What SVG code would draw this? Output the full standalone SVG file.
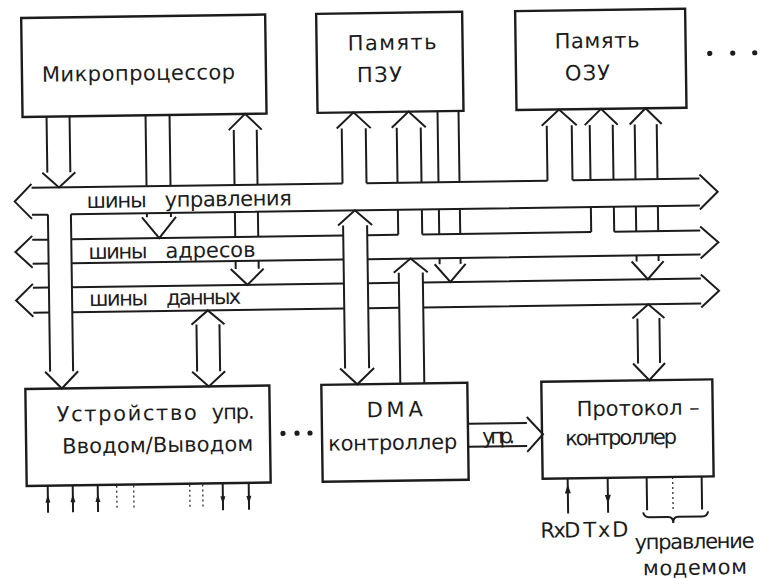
<svg xmlns="http://www.w3.org/2000/svg" width="760" height="579" viewBox="0 0 760 579">
<style>
.ln{fill:none;stroke:#1c1c1c;stroke-width:2;stroke-linejoin:miter;stroke-linecap:butt}
.box{fill:none;stroke:#1c1c1c;stroke-width:2.4}
.dot{fill:none;stroke:#1c1c1c;stroke-width:1.2;stroke-dasharray:2 3}
.ah{fill:#1c1c1c;stroke:none}
.t{font-family:"DejaVu Sans","Liberation Sans",sans-serif;font-size:21px;fill:#1c1c1c}
</style>
<rect width="760" height="579" fill="#ffffff"/>
<g transform="rotate(-0.8 380 290)">
<g id="mp"><rect class="box" x="25" y="13" width="244" height="99"/><text class="t" x="45" y="77" textLength="193">Микропроцессор</text></g>
<g id="rom"><rect class="box" x="320" y="13" width="146" height="99"/><text class="t" x="351" y="50" font-size="19" textLength="89">Память</text><text class="t" x="360" y="82" textLength="45">ПЗУ</text></g>
<g id="ram"><rect class="box" x="519" y="13" width="170" height="99"/><text class="t" x="558" y="51" font-size="19" textLength="85">Память</text><text class="t" x="568" y="83" textLength="45">ОЗУ</text></g>
<g id="more-top"><circle cx="713" cy="58" r="2.6" fill="#1c1c1c"/><circle cx="736" cy="58" r="2.6" fill="#1c1c1c"/><circle cx="758" cy="58" r="2.6" fill="#1c1c1c"/></g>
<g id="io"><rect class="box" x="24" y="384" width="244" height="97"/><text class="t" x="55" y="417" textLength="140">Устройство</text><text class="t" x="210" y="417" textLength="43">упр.</text><text class="t" x="60" y="449" textLength="191">Вводом/Выводом</text>
<path class="ln" d="M45,481V508M70,481V508M95,481V508M220,481V508M246,481V508"/>
<path class="dot" d="M114,482V506M131,482V506M187,482V506M200,482V506"/>
<path class="ah" d="M42.5,498L45,490L47.5,498ZM67.5,498L70,490L72.5,498ZM92.5,498L95,490L97.5,498ZM217.5,494L220,502L222.5,494ZM243.5,494L246,502L248.5,494Z"/></g>
<g id="more-mid"><circle cx="281" cy="432" r="2.6" fill="#1c1c1c"/><circle cx="295" cy="432" r="2.6" fill="#1c1c1c"/><circle cx="308" cy="432" r="2.6" fill="#1c1c1c"/></g>
<g id="dma"><rect class="box" x="320" y="384" width="146" height="97"/><text class="t" x="365" y="417" font-size="20" textLength="56">DMA</text><text class="t" x="326" y="450" textLength="129">контроллер</text></g>
<g id="proto"><rect class="box" x="540" y="384" width="171" height="97"/><text class="t" x="575" y="419" textLength="123">Протокол –</text><text class="t" x="563" y="448" textLength="112">контроллер</text>
<path class="ln" d="M565,481V516M605,481V516M644,481V514M699,481V514"/>
<path class="dot" d="M670,481V514"/>
<path class="ah" d="M562,496L565,487L568,496ZM602,498L605,507L608,498Z"/>
<path class="ln" stroke-width="1.6" d="M640,516Q641,521 646,521L665,521Q670,521 670,527Q670,521 675,521L699,521Q704,521 705,516"/>
<text class="t" x="537" y="540" font-size="20" textLength="40">RxD</text><text class="t" x="580" y="540" font-size="20" textLength="45">TxD</text>
<text class="t" x="631" y="553" font-size="17" textLength="120">управление</text><text class="t" x="639" y="579" font-size="17" textLength="104">модемом</text></g>
<g id="buses">
<path class="ln" d="M33,179L16,196.5L33,214M33,183H344M368,183H549M574,183H701M33,210H49M72,210H701M701,179L719,196.5L701,214"/>
<path class="ln" d="M33,231L16,247L33,263M33,235H49M72,235H344M368,235H399M423,235H592M615,235H701M33,259H49M72,259H344M368,259H701M701,231L719,247L701,263"/>
<path class="ln" d="M33,279L16,295.5L33,312M33,283H49M72,283H344M368,283H399M423,283H701M33,308H49M72,308H344M368,308H399M423,308H701M701,279L719,295.5L701,312"/>
<text class="t" x="88" y="204" textLength="60">шины</text><text class="t" x="166" y="204" textLength="127">управления</text>
<text class="t" x="89" y="255" textLength="59">шины</text><text class="t" x="166" y="255" textLength="90">адресов</text>
<text class="t" x="89" y="302" textLength="59">шины</text><text class="t" x="166" y="302" textLength="75">данных</text>
</g>
<g id="connectors">
<path class="ln" d="M49,210V367M72,210V367M44,367L60.5,384L77,367"/>
<path class="ln" d="M49,112V168M72,112V168M44,168L60.5,183L77,168"/>
<path class="ln" d="M148,112V183M172,112V183M148,210V214M172,210V214M143,214L160,235L177,214"/>
<path class="ln" d="M231,128L247.5,112L264,128M236,128V183M259,128V183M236,210V235M259,210V235M236,259V267M259,259V267M231,267L247.5,283L264,267"/>
<path class="ln" d="M339,128L356,112L373,128M344,128V183M368,128V183M339,225L356,210L373,225M344,225V368M368,225V368M339,368L356,384L373,368"/>
<path class="ln" d="M394,128L411,112L428,128M399,128V183M423,128V183M399,210V235M423,210V235"/>
<path class="ln" d="M394,273L411,259L428,273M399,273V384M423,273V384"/>
<path class="ln" d="M440,112V183M461,112V183M440,210V235M461,210V235M440,259V265M461,259V265M435,265L450.5,283L466,265"/>
<path class="ln" d="M544,128L561.5,112L579,128M549,128V183M574,128V183"/>
<path class="ln" d="M587,128L603.5,112L620,128M592,128V183M615,128V183M592,210V235M615,210V235"/>
<path class="ln" d="M632,128L648,112L664,128M637,128V183M659,128V183M637,210V235M659,210V235M637,259V265M659,259V265M632,265L648,283L664,265"/>
<path class="ln" d="M632,322L648,308L664,322M637,322V367M659,322V367M632,367L648,384L664,367"/>
<path class="ln" d="M191,322L207.5,308L224,322M196,322V369M219,322V369M191,369L207.5,384L224,369"/>
<path class="ln" d="M466,425H525M466,448H525M525,419L541,436.5L525,454"/>
<text class="t" x="480" y="445" font-size="18" textLength="33">упр.</text>
</g>
</g>
</svg>
